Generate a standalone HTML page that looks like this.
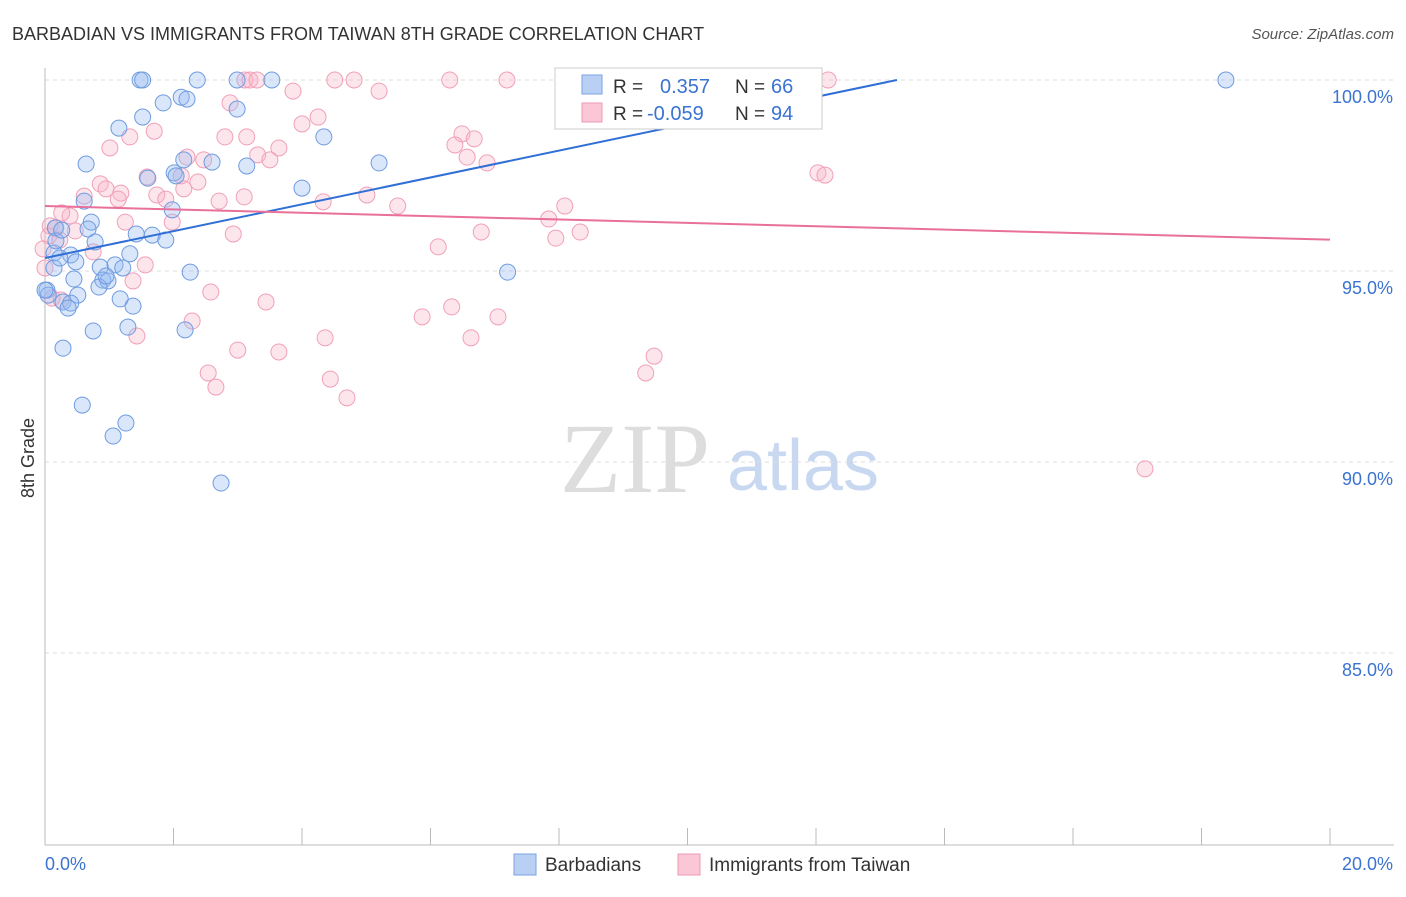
<!DOCTYPE html>
<html><head><meta charset="utf-8"><style>
body{margin:0;background:#fff;font-family:"Liberation Sans",sans-serif}
</style></head><body>
<svg id="chart" width="1406" height="892" xmlns="http://www.w3.org/2000/svg" font-family="Liberation Sans, sans-serif">
<text x="12" y="40" font-size="18" fill="#333">BARBADIAN VS IMMIGRANTS FROM TAIWAN 8TH GRADE CORRELATION CHART</text>
<text x="1394" y="39" font-size="15" fill="#555" font-style="italic" text-anchor="end">Source: ZipAtlas.com</text>
<text x="34" y="458" font-size="18" fill="#333" transform="rotate(-90 34 458)" text-anchor="middle">8th Grade</text>
<g><text x="635" y="492" font-size="100" fill="#ddd" style="font-family:'Liberation Serif',serif" text-anchor="middle">ZIP</text><text x="803" y="490" font-size="72" fill="#c8d8f0" text-anchor="middle">atlas</text></g>
<g id="grid"></g><g id="axes"></g><g id="pts"></g><g id="lines"></g>
<g>
<rect x="555" y="68" width="267" height="61" fill="#fff" stroke="#ccc"/>
<rect x="582" y="75" width="20" height="19" fill="#b9cff3" stroke="#7aa3e5"/>
<rect x="582" y="103" width="20" height="19" fill="#fbc7d6" stroke="#ee9ab3"/>
<text x="613" y="93" font-size="19" fill="#333">R =</text><text x="660" y="93" font-size="20" fill="#3b73d1">0.357</text>
<text x="735" y="93" font-size="19" fill="#333">N =</text><text x="771" y="93" font-size="20" fill="#3b73d1">66</text>
<text x="613" y="120" font-size="19" fill="#333">R =</text><text x="647" y="120" font-size="20" fill="#3b73d1">-0.059</text>
<text x="735" y="120" font-size="19" fill="#333">N =</text><text x="771" y="120" font-size="20" fill="#3b73d1">94</text>
</g>
<g>
<rect x="514" y="854" width="22" height="21" fill="#b9cff3" stroke="#7aa3e5"/>
<text x="545" y="871" font-size="19" fill="#333">Barbadians</text>
<rect x="678" y="854" width="22" height="21" fill="#fbc7d6" stroke="#ee9ab3"/>
<text x="709" y="871" font-size="19" fill="#333">Immigrants from Taiwan</text>
</g>
</svg>
<script>
const yTicks=[100,95,90,85];
const yTickLabels=["100.0%","95.0%","90.0%","85.0%"];
const xTicks=[0,2,4,6,8,10,12,14,16,18,20];
const blueX=[1.48,1.52,2.37,2.99,3.53,18.38,2.12,2.21,1.84,2.99,1.52,1.15,4.34,2.16,2.60,3.14,5.20,0.64,1.60,2.01,4.00,0.61,1.98,0.72,0.16,0.67,1.42,1.67,1.88,0.78,1.32,0.14,0.40,0.48,0.86,1.09,1.21,0.14,2.26,7.20,0.45,0.90,0.98,0.84,0.03,0.51,0.28,0.40,0.36,1.17,1.37,0.75,1.29,2.18,0.28,0.58,1.26,1.06,2.74,0.05,0.95,0.23,0.17,0.26,2.04,0.0];
const blueY=[100,100,100,100,100,100,99.55,99.50,99.40,99.24,99.03,98.74,98.51,97.91,97.85,97.75,97.83,97.80,97.43,97.57,97.17,96.83,96.60,96.28,96.13,96.10,95.97,95.94,95.81,95.76,95.45,95.47,95.42,95.24,95.10,95.16,95.08,95.08,94.97,94.97,94.79,94.76,94.74,94.58,94.50,94.37,94.19,94.16,94.03,94.27,94.08,93.43,93.53,93.46,92.98,91.49,91.02,90.68,89.45,94.37,94.87,95.34,95.79,96.07,97.49,94.50];
const pinkX=[3.11,3.19,3.30,4.51,4.81,6.30,7.19,12.19,3.86,5.20,2.88,4.25,1.70,1.01,1.32,2.80,3.14,4.00,6.49,6.68,6.38,6.57,6.88,3.64,3.31,3.50,2.47,2.21,12.03,12.14,1.59,2.12,2.38,0.86,0.95,1.18,0.61,1.74,1.88,2.16,2.71,3.10,4.33,5.01,5.49,8.09,1.14,0.39,0.26,1.25,1.98,7.84,0.47,0.06,2.93,6.79,7.95,8.33,0.23,0.75,-0.03,6.12,1.56,1.37,2.58,3.44,0.11,0.25,2.29,5.87,6.33,7.05,1.43,4.36,6.63,3.00,3.64,9.48,9.35,2.54,2.66,4.44,4.70,17.12,0.08,0.17,0.0];
const pinkY=[100,100,100,100,100,100,100,100,99.71,99.71,99.40,99.03,98.66,98.22,98.51,98.51,98.51,98.85,98.59,98.46,98.30,97.98,97.83,98.22,98.04,97.91,97.91,97.98,97.57,97.51,97.46,97.49,97.33,97.28,97.15,97.04,96.96,96.99,96.88,97.15,96.83,96.94,96.81,96.99,96.70,96.70,96.88,96.44,96.52,96.28,96.28,96.36,96.05,95.92,95.97,96.02,95.86,96.02,95.81,95.50,95.58,95.63,95.16,94.74,94.45,94.19,94.29,94.24,93.69,93.80,94.06,93.80,93.30,93.25,93.25,92.93,92.88,92.77,92.33,92.33,91.96,92.17,91.68,89.82,96.18,96.13,95.08];
const blueLine=[0,95.34,13.26,100];
const pinkLine=[0,96.7,20,95.82];
const NS="http://www.w3.org/2000/svg";
const sx=v=>45+v/20*1285, sy=v=>80+(100-v)*38.2;
function mk(t,a,p){const e=document.createElementNS(NS,t);for(const k in a)e.setAttribute(k,a[k]);p.appendChild(e);return e;}
const grid=document.getElementById('grid'),axes=document.getElementById('axes'),pts=document.getElementById('pts'),lines=document.getElementById('lines');
yTicks.forEach((t,i)=>{
 const g=mk('line',{x1:45,x2:1394,y1:sy(t),y2:sy(t),stroke:'#ddd','stroke-dasharray':'4,4'},grid);
 
 
 const l=mk('text',{x:1393,y:sy(t)+23,'font-size':18,fill:'#3b73d1','text-anchor':'end'},axes);l.textContent=yTickLabels[i];
 
 
});
const ax=mk('line',{x1:45,x2:1394,y1:845,y2:845,stroke:'#bbb'},axes);


const ay=mk('line',{x1:45,x2:45,y1:68,y2:845,stroke:'#bbb'},axes);


xTicks.forEach(t=>{const k=mk('line',{x1:sx(t),x2:sx(t),y1:828,y2:845,stroke:'#bbb'},axes);
 
 });
const x0=mk('text',{x:45,y:870,'font-size':18,fill:'#3b73d1'},axes);x0.textContent='0.0%';


const x1=mk('text',{x:1393,y:870,'font-size':18,fill:'#3b73d1','text-anchor':'end'},axes);x1.textContent='20.0%';


pinkX.forEach((x,i)=>{const c=mk('circle',{cx:sx(x),cy:sy(pinkY[i]),r:8,fill:'rgba(248,180,200,0.35)',stroke:'#f0a0b8','stroke-width':1},pts);
 
 });
blueX.forEach((x,i)=>{const c=mk('circle',{cx:sx(x),cy:sy(blueY[i]),r:8,fill:'rgba(150,185,240,0.35)',stroke:'#6f9be0','stroke-width':1},pts);
 
 });
const bl=mk('line',{x1:sx(blueLine[0]),y1:sy(blueLine[1]),x2:sx(blueLine[2]),y2:sy(blueLine[3]),stroke:'#2f6fd6','stroke-width':2},lines);


const pl=mk('line',{x1:sx(pinkLine[0]),y1:sy(pinkLine[1]),x2:sx(pinkLine[2]),y2:sy(pinkLine[3]),stroke:'#e8709a','stroke-width':2},lines);


</script>
</body></html>
